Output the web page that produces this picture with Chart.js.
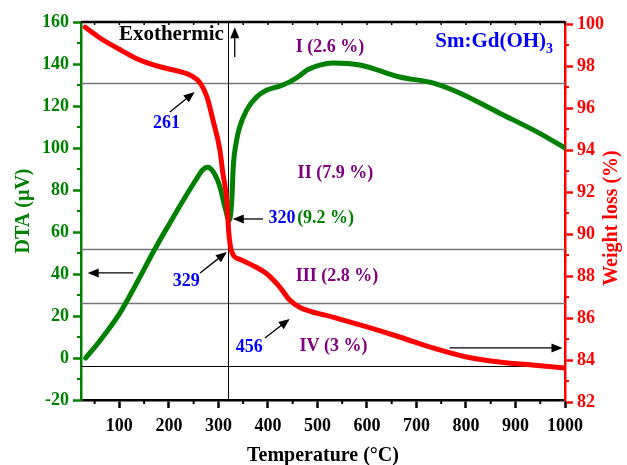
<!DOCTYPE html>
<html>
<head>
<meta charset="utf-8">
<script src="https://cdn.jsdelivr.net/npm/chart.js@4"></script>
<style>
  body { margin: 0; background: #fff; }
</style>
</head>
<body>
<canvas id="tgaChart" width="627" height="465"></canvas>
<script>
// ====================
// Data
// ====================

const dtaTemp = [32, 60, 100, 130, 172, 200, 230, 255, 268, 278, 290, 303, 313, 322, 327, 330, 337, 343, 357, 377, 397, 424, 444, 465, 478, 505, 531, 586, 666, 733, 787, 867, 948, 1000];
const dtaValues = [0, 8, 21, 33.5, 52, 63.5, 75.5, 85, 89.5, 90.8, 88.5, 81.6, 72, 65.5, 75, 91, 104, 110, 118, 124.3, 127.5, 129.5, 131.5, 134.5, 137, 139.5, 140.5, 139.5, 133.8, 131, 126.2, 116.7, 107.1, 100];

const tgaTemp = [31, 60, 100, 140, 180, 220, 245, 263, 277, 289, 303, 309, 317, 321, 327, 343, 370, 398, 424, 444, 464, 531, 600, 666, 733, 801, 867, 934, 1000];
const tgaValues = [99.85, 99.35, 98.8, 98.3, 97.98, 97.75, 97.55, 97.2, 96.53, 95.43, 94.0, 92.9, 91.62, 90.05, 89.15, 88.8, 88.5, 88.1, 87.48, 86.86, 86.52, 86.05, 85.58, 85.1, 84.58, 84.15, 83.91, 83.77, 83.62];

const xTicks = [100, 200, 300, 400, 500, 600, 700, 800, 900, 1000];
const dtaTicks = [-20, 0, 20, 40, 60, 80, 100, 120, 140, 160];
const weightTicks = [82, 84, 86, 88, 90, 92, 94, 96, 98, 100];

// step levels (weight %) and the 320 °C marker
const stepLevels = [97.2, 89.3, 86.7, 83.7];
const peakTemp = 320;

// ====================
// Styles
// ====================

const GREEN = "#008000";
const RED = "#ff0000";
const BLUE = "#0000ff";
const PURPLE = "#800080";
const FONT = "'Liberation Serif', 'Times New Roman', serif";

Chart.defaults.font.family = FONT;

// labels & arrows, placed in (°C, DTA) coordinates
const labels = [
  { text: "Exothermic", x: 99, y: 153.8, color: "#000", size: 21 },
  { text: "I (2.6 %)", x: 456, y: 148.1, color: PURPLE, size: 18 },
  { text: "261", x: 168, y: 111.7, color: BLUE, size: 18 },
  { text: "II (7.9 %)", x: 460, y: 88.1, color: PURPLE, size: 18 },
  { text: "320", x: 401, y: 66.7, color: BLUE, size: 18 },
  { text: "(9.2 %)", x: 459, y: 66.7, color: GREEN, size: 18 },
  { text: "329", x: 208, y: 36.7, color: BLUE, size: 18 },
  { text: "III (2.8 %)", x: 456, y: 39, color: PURPLE, size: 18 },
  { text: "456", x: 335, y: 5.2, color: BLUE, size: 18 },
  { text: "IV (3 %)", x: 464, y: 5.7, color: PURPLE, size: 18 },
];

const arrows = [
  { from: [333, 143.3], to: [333, 157.5] },
  { from: [202, 117.1], to: [252, 126.7] },
  { from: [390, 66.2], to: [329, 66.2] },
  { from: [263, 40.5], to: [317, 50.5] },
  { from: [128, 40.5], to: [36, 40.5] },
  { from: [394, 9.5], to: [444, 18.6] },
  { from: [767, 4.8], to: [995, 4.8] },
];

function drawArrow(ctx, x1, y1, x2, y2) {
  const a = Math.atan2(y2 - y1, x2 - x1);
  const len = 11, w = 4.5;
  ctx.beginPath();
  ctx.moveTo(x1, y1);
  ctx.lineTo(x2 - Math.cos(a) * len * 0.8, y2 - Math.sin(a) * len * 0.8);
  ctx.stroke();
  ctx.beginPath();
  ctx.moveTo(x2, y2);
  ctx.lineTo(x2 - Math.cos(a) * len - Math.sin(a) * w, y2 - Math.sin(a) * len + Math.cos(a) * w);
  ctx.lineTo(x2 - Math.cos(a) * len + Math.sin(a) * w, y2 - Math.sin(a) * len - Math.cos(a) * w);
  ctx.closePath();
  ctx.fill();
}

const decorPlugin = {
  id: "decor",

  beforeDatasetsDraw(chart) {
    const { ctx, chartArea: a, scales } = chart;
    ctx.save();
    stepLevels.forEach((lv, i) => {
      const y = Math.round(scales.y1.getPixelForValue(lv)) + 0.5;
      ctx.strokeStyle = i === stepLevels.length - 1 ? "#000" : "#777";
      ctx.lineWidth = i === stepLevels.length - 1 ? 1 : 1.6;
      ctx.beginPath();
      ctx.moveTo(a.left, y);
      ctx.lineTo(a.right, y);
      ctx.stroke();
    });
    const vx = Math.round(scales.x.getPixelForValue(peakTemp)) + 0.5;
    ctx.strokeStyle = "#000";
    ctx.lineWidth = 1;
    ctx.beginPath();
    ctx.moveTo(vx, a.top);
    ctx.lineTo(vx, a.bottom);
    ctx.stroke();
    ctx.restore();
  },

  afterDatasetsDraw(chart) {
    const { ctx, chartArea: a, scales } = chart;
    const px = (v) => scales.x.getPixelForValue(v);
    const py = (v) => scales.y.getPixelForValue(v);
    ctx.save();

    // text labels
    ctx.textBaseline = "middle";
    ctx.textAlign = "left";
    labels.forEach((l) => {
      ctx.font = "bold " + l.size + "px " + FONT;
      ctx.fillStyle = l.color;
      ctx.fillText(l.text, px(l.x), py(l.y));
    });

    // sample name with subscript
    ctx.fillStyle = BLUE;
    ctx.textBaseline = "alphabetic";
    ctx.font = "bold 21px " + FONT;
    const sx = px(738), sy = py(148.1);
    ctx.fillText("Sm:Gd(OH)", sx, sy);
    const sw = ctx.measureText("Sm:Gd(OH)").width;
    ctx.font = "bold 14px " + FONT;
    ctx.fillText("3", sx + sw, sy + 6);

    // arrows
    ctx.strokeStyle = "#000";
    ctx.fillStyle = "#000";
    ctx.lineWidth = 1.3;
    arrows.forEach((ar) => {
      drawArrow(ctx, px(ar.from[0]), py(ar.from[1]), px(ar.to[0]), py(ar.to[1]));
    });

    // top frame with small inward ticks
    ctx.strokeStyle = "#000";
    ctx.lineWidth = 2.5;
    ctx.beginPath();
    ctx.moveTo(a.left, a.top);
    ctx.lineTo(a.right, a.top);
    ctx.stroke();
    ctx.lineWidth = 1.5;
    for (let t = 50; t <= 1000; t += 50) {
      const x = px(t);
      ctx.beginPath();
      ctx.moveTo(x, a.top);
      ctx.lineTo(x, a.top + 3);
      ctx.stroke();
    }

    // minor ticks
    ctx.lineWidth = 2;
    for (let t = 50; t < 1000; t += 100) {
      const x = px(t);
      ctx.beginPath();
      ctx.moveTo(x, a.bottom);
      ctx.lineTo(x, a.bottom + 4);
      ctx.stroke();
    }
    ctx.strokeStyle = GREEN;
    for (let v = -10; v < 160; v += 20) {
      const y = py(v);
      ctx.beginPath();
      ctx.moveTo(a.left - 4, y);
      ctx.lineTo(a.left, y);
      ctx.stroke();
    }
    ctx.strokeStyle = RED;
    for (let v = 83; v < 100; v += 2) {
      const y = scales.y1.getPixelForValue(v);
      ctx.beginPath();
      ctx.moveTo(a.right, y);
      ctx.lineTo(a.right + 4, y);
      ctx.stroke();
    }

    // right axis title, reading upward
    ctx.translate(612, 218);
    ctx.rotate(-Math.PI / 2);
    ctx.textAlign = "center";
    ctx.textBaseline = "middle";
    ctx.fillStyle = RED;
    ctx.font = "bold 20px " + FONT;
    ctx.fillText("Weight loss (%)", 0, 0);
    ctx.restore();
  },
};

// ====================
// Chart
// ====================

new Chart(document.getElementById("tgaChart"), {
  type: "line",

  data: {
    datasets: [
      {
        label: "Weight loss",
        data: tgaTemp.map((t, i) => ({ x: t, y: tgaValues[i] })),
        yAxisID: "y1",
        borderColor: RED,
        borderWidth: 5,
        pointRadius: 0,
        cubicInterpolationMode: "monotone",
        borderCapStyle: "round",
      },
      {
        label: "DTA",
        data: dtaTemp.map((t, i) => ({ x: t, y: dtaValues[i] })),
        yAxisID: "y",
        borderColor: GREEN,
        borderWidth: 5,
        pointRadius: 0,
        cubicInterpolationMode: "monotone",
        borderCapStyle: "round",
      },
    ],
  },

  options: {
    responsive: false,
    animation: false,
    layout: { padding: { top: 22, left: 0, right: 0, bottom: 0 } },

    plugins: {
      legend: { display: false },
      tooltip: { enabled: false },
    },

    scales: {
      x: {
        type: "linear",
        min: 22.5,
        max: 1000,
        afterBuildTicks: (s) => { s.ticks = xTicks.map((v) => ({ value: v })); },
        afterFit: (s) => { s.height = 65; },
        ticks: {
          color: "#000",
          font: { size: 18, weight: "bold" },
          padding: 8,
          maxRotation: 0,
          callback: (v) => String(v),
        },
        grid: { drawOnChartArea: false, tickLength: 8, tickWidth: 2.5, tickColor: "#000" },
        border: { color: "#000", width: 2.5 },
        title: {
          display: true,
          text: "Temperature (°C)",
          color: "#000",
          font: { size: 20, weight: "bold", lineHeight: 0.8 },
          padding: { bottom: 1 },
        },
      },
      y: {
        position: "left",
        min: -20,
        max: 160,
        afterBuildTicks: (s) => { s.ticks = dtaTicks.map((v) => ({ value: v })); },
        afterFit: (s) => { s.width = 81; },
        ticks: { color: GREEN, font: { size: 18, weight: "bold" }, padding: 4 },
        grid: { drawOnChartArea: false, tickLength: 8, tickWidth: 2.5, tickColor: GREEN },
        border: { color: GREEN, width: 2.5 },
        title: {
          display: true,
          text: "DTA (µV)",
          color: GREEN,
          font: { size: 20, weight: "bold" },
          padding: { top: 12 },
        },
      },
      y1: {
        position: "right",
        min: 82.1,
        max: 100.1,
        afterBuildTicks: (s) => { s.ticks = weightTicks.map((v) => ({ value: v })); },
        afterFit: (s) => { s.width = 62; },
        ticks: { color: RED, font: { size: 18, weight: "bold" }, padding: 4 },
        grid: { drawOnChartArea: false, tickLength: 8, tickWidth: 2.5, tickColor: RED },
        border: { color: RED, width: 2.5 },
      },
    },
  },

  plugins: [decorPlugin],
});
</script>
</body>
</html>
